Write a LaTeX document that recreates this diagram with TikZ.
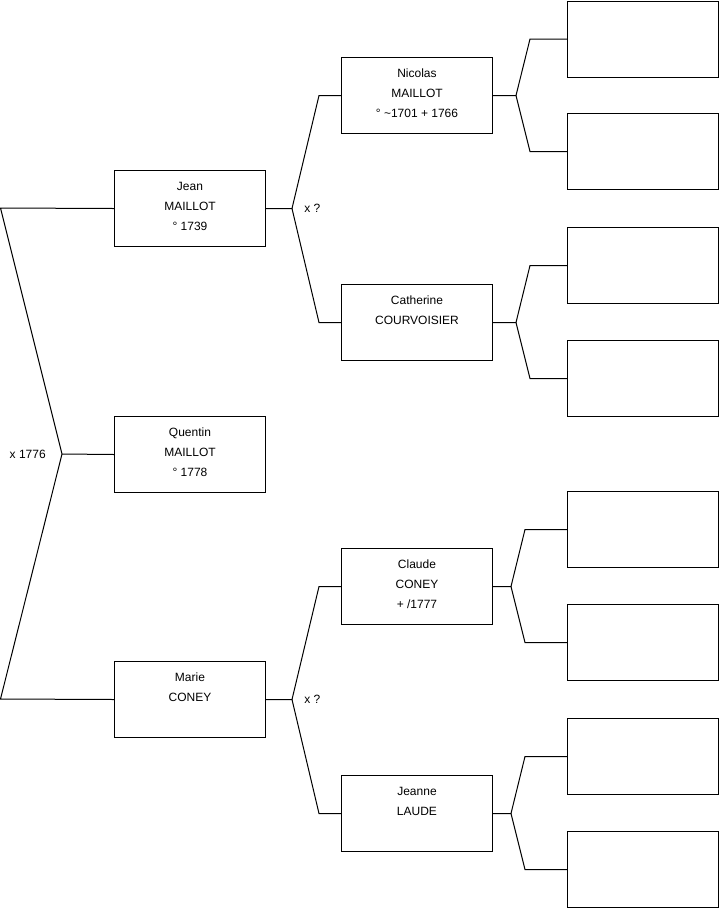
\documentclass[tikz,border=0pt]{standalone}
\usepackage{fontspec}
\setmainfont{Liberation Sans}
\usetikzlibrary{positioning}

\tikzset{
  person/.style={draw, line width=0.75pt, minimum width=113.25pt, minimum height=57pt, inner sep=0pt, anchor=north west},
  who/.style={anchor=north, align=center, inner sep=0pt, font=\fontsize{9}{15}\selectfont},
  wed/.style={inner sep=0pt, font=\fontsize{9}{11}\selectfont},
  link/.style={line width=0.75pt}
}

\begin{document}
\begin{tikzpicture}[x=0.75pt,y=-0.75pt]
  \useasboundingbox (0,0) rectangle (719,908);
  % generation 1 and 2
  \node[person] (jean) at (114,170) {};
  \node[person] (quentin) at (114,416) {};
  \node[person] (marie) at (114,661) {};
  \node[person] (nicolas) at (341,57) {};
  \node[person] (catherine) at (341,284) {};
  \node[person] (claude) at (341,548) {};
  \node[person] (jeanne) at (341,775) {};
  % grandparents, left blank
  \foreach \i/\y in {1/0.5,2/113,3/227,4/340,5/491,6/604,7/718,8/831}
    \node[person] (e\i) at (567,\y) {};

  \node[who] (jean-t) at ([yshift=-8.7pt]jean.north) {Jean\\MAILLOT\\° 1739};
  \node[who] (quentin-t) at ([yshift=-8.7pt]quentin.north) {Quentin\\MAILLOT\\° 1778};
  \node[who] (marie-t) at ([yshift=-8.7pt]marie.north) {Marie\\CONEY};
  \node[who] (nicolas-t) at ([yshift=-8.7pt]nicolas.north) {Nicolas\\MAILLOT\\° \textasciitilde1701 + 1766};
  \node[who] (catherine-t) at ([yshift=-8.7pt]catherine.north) {Catherine\\COURVOISIER};
  \node[who] (claude-t) at ([yshift=-8.7pt]claude.north) {Claude\\CONEY\\+ /1777};
  \node[who] (jeanne-t) at ([yshift=-8.7pt]jeanne.north) {Jeanne\\LAUDE};

  % left bracket
  \coordinate (top) at (0.5,208);
  \coordinate (bot) at (0.5,699);
  \coordinate (cpl) at (62,454);
  \draw[link] (jean.west) -- (top) -- (cpl) -- (bot) -- (marie.west);
  \draw[link] (cpl) -- (quentin.west);
  \node[wed, left=12pt of cpl] (wed1) {x 1776};

  % forks to the parents
  \foreach \p/\a/\b/\bx/\kx in {jean/nicolas/catherine/292/319, marie/claude/jeanne/292/319,
      nicolas/e1/e2/516/530, catherine/e3/e4/516/530, claude/e5/e6/511/525, jeanne/e7/e8/511/525}{
    \path (\bx,0) coordinate (bx) (\kx,0) coordinate (kx);
    \draw[link] (\p.east) -- (\p.east -| bx) coordinate (f-\p) -- (\a.west -| kx) -- (\a.west);
    \draw[link] (f-\p) -- (\b.west -| kx) -- (\b.west);
  }
  \node[wed, right=9pt of f-jean] (wed2) {x ?};
  \node[wed, right=9pt of f-marie] (wed3) {x ?};
\end{tikzpicture}
\end{document}
